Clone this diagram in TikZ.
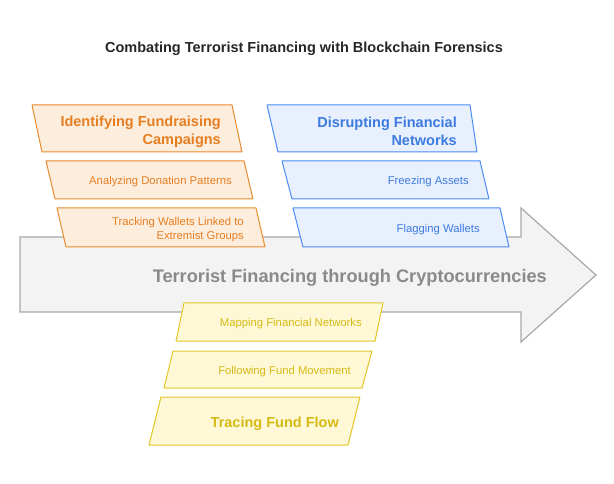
\documentclass[tikz,border=0pt]{standalone}
\usepackage{fontspec}
\setmainfont{Liberation Sans}
\usepackage{xcolor}

\definecolor{orgLine}{HTML}{E98A2D}
\definecolor{orgFill}{HTML}{FDEDDD}
\definecolor{orgText}{HTML}{E67E22}
\definecolor{bluLine}{HTML}{4C8BF5}
\definecolor{bluFill}{HTML}{E8F0FE}
\definecolor{bluText}{HTML}{3C7BE0}
\definecolor{ylwLine}{HTML}{E3C62A}
\definecolor{ylwFill}{HTML}{FEF8D6}
\definecolor{ylwText}{HTML}{D6BA14}
\definecolor{arrLine}{HTML}{A8A8A8}
\definecolor{arrFill}{HTML}{F3F3F3}
\definecolor{arrText}{HTML}{8A8A8A}
\definecolor{titleText}{HTML}{262626}

\begin{document}
\begin{tikzpicture}[x=1pt, y=-1pt,
  obox/.style={draw=orgLine, fill=orgFill, line width=1pt, line join=round},
  bbox/.style={draw=bluLine, fill=bluFill, line width=1pt, line join=round},
  ybox/.style={draw=ylwLine, fill=ylwFill, line width=1pt, line join=round},
  headtext/.style={font=\fontsize{14.5}{18}\selectfont\bfseries, align=right, anchor=east, inner sep=0pt},
  itemtext/.style={font=\fontsize{11.3}{13.5}\selectfont, align=right, anchor=east, inner sep=0pt}]

\useasboundingbox (0,0) rectangle (614,484);

% -------------------------
% Title
% -------------------------
\node[font=\fontsize{14.5}{17}\selectfont\bfseries, text=titleText] (title) at (304,49) {Combating Terrorist Financing with Blockchain Forensics};

% -------------------------
% Main arrow
% -------------------------
\draw[draw=arrLine, fill=arrFill, line width=1.2pt, line join=miter]
  (20,237) -- (521,237) -- (521,208) -- (596,275) -- (521,342) -- (521,312) -- (20,312) -- cycle;
\node[font=\fontsize{18.2}{21}\selectfont\bfseries, text=arrText, anchor=east, inner sep=0pt] (mainArrow) at (547,277.5) {Terrorist Financing through Cryptocurrencies};

% -------------------------
% Orange boxes (fundraising)
% -------------------------
\draw[obox] (32,105) -- (232,105) -- (242,152) -- (42,152) -- cycle;
\draw[obox] (46,161) -- (244,161) -- (253,199) -- (55,199) -- cycle;
\draw[obox] (57,208) -- (256,208) -- (265,247) -- (66,247) -- cycle;

\node[headtext, text=orgText] (fundHead) at (221,131.5) {Identifying Fundraising\\Campaigns};
\node[itemtext, text=orgText] (donation) at (232,182) {Analyzing Donation Patterns};
\node[itemtext, text=orgText] (extremist) at (244,229.5) {Tracking Wallets Linked to\\Extremist Groups};

% -------------------------
% Blue boxes (disrupting)
% -------------------------
\draw[bbox] (267,105) -- (470,105) -- (477,152) -- (278,152) -- cycle;
\draw[bbox] (282,161) -- (480,161) -- (489,199) -- (292,199) -- cycle;
\draw[bbox] (293,208) -- (500,208) -- (509,247) -- (303,247) -- cycle;

\node[headtext, text=bluText] (disruptHead) at (457,131.5) {Disrupting Financial\\Networks};
\node[itemtext, text=bluText] (freezing) at (469,182) {Freezing Assets};
\node[itemtext, text=bluText] (flagging) at (480,229.5) {Flagging Wallets};

% -------------------------
% Yellow boxes (tracing)
% -------------------------
\draw[ybox] (184,303) -- (383,303) -- (375,341) -- (176,341) -- cycle;
\draw[ybox] (173,351) -- (372,351) -- (362,388) -- (164,388) -- cycle;
\draw[ybox] (161,397) -- (360,397) -- (348,445) -- (149,445) -- cycle;

\node[itemtext, text=ylwText] (mapping) at (362,324) {Mapping Financial Networks};
\node[itemtext, text=ylwText] (following) at (351,371.5) {Following Fund Movement};
\node[headtext, text=ylwText] (traceHead) at (339,423.5) {Tracing Fund Flow};

\end{tikzpicture}
\end{document}
